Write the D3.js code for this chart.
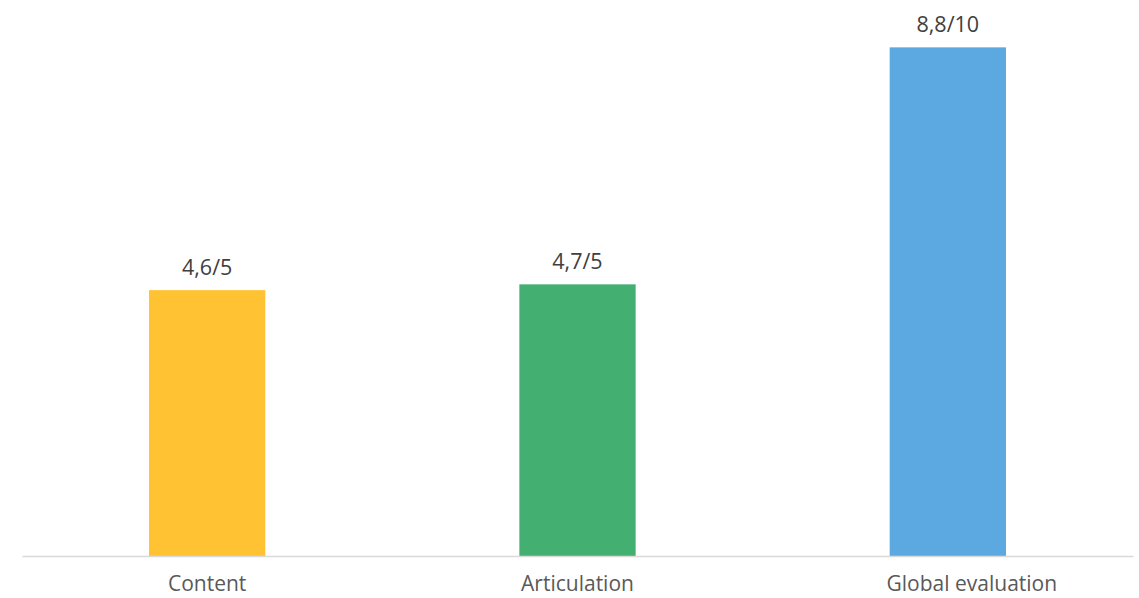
<!DOCTYPE html>
<html>
<head>
<meta charset="utf-8">
<script src="https://cdn.jsdelivr.net/npm/d3@7"></script>
<style>
  body { margin: 0; background: #fff; }
  text { font-family: "Open Sans", "Liberation Sans", sans-serif; }
</style>
</head>
<body>
<div id="chart"></div>
<script>
const categories = ['Content', 'Articulation', 'Global evaluation'];
const values = [4.6, 4.7, 8.8];
const valueLabels = ['4,6/5', '4,7/5', '8,8/10'];
const colors = ['#FFC233', '#43B071', '#5CA8E0'];

const w = 1139;
const h = 598;
const left = 22;
const right = 1133;
const baseY = 556;

const svg = d3.select('#chart')
              .append('svg')
              .attr('width', w)
              .attr('height', h);

const xScale = d3.scaleBand()
                 .domain(categories)
                 .range([left, right])
                 .paddingInner(0.686)
                 .paddingOuter(0.343);

const yScale = d3.scaleLinear()
                 .domain([0, 10])
                 .range([baseY, -22]);

svg.selectAll('rect')
   .data(values)
   .enter()
   .append('rect')
   .attr('x', (d, i) => xScale(categories[i]))
   .attr('y', (d) => yScale(d))
   .attr('width', xScale.bandwidth())
   .attr('height', (d) => baseY - yScale(d))
   .attr('fill', (d, i) => colors[i]);

// value labels above the bars
svg.selectAll('.val')
   .data(values)
   .enter()
   .append('text')
   .attr('class', 'val')
   .attr('x', (d, i) => xScale(categories[i]) + xScale.bandwidth() / 2)
   .attr('y', (d) => yScale(d) - 15)
   .attr('text-anchor', 'middle')
   .attr('font-size', 21.5)
   .attr('fill', '#404040')
   .text((d, i) => valueLabels[i]);

const xAxis = d3.axisBottom(xScale).tickSize(0);

const gx = svg.append('g')
   .attr('transform', 'translate(0,' + baseY + ')')
   .call(xAxis);

gx.select('.domain').attr('stroke', '#d9d9d9').attr('stroke-width', 1.5);
gx.selectAll('text')
  .attr('y', 35)
  .attr('dy', 0)
  .attr('dx', (d, i) => i === 2 ? 24 : 0)
  .attr('font-size', 21)
  .attr('fill', '#595959');
</script>
</body>
</html>
